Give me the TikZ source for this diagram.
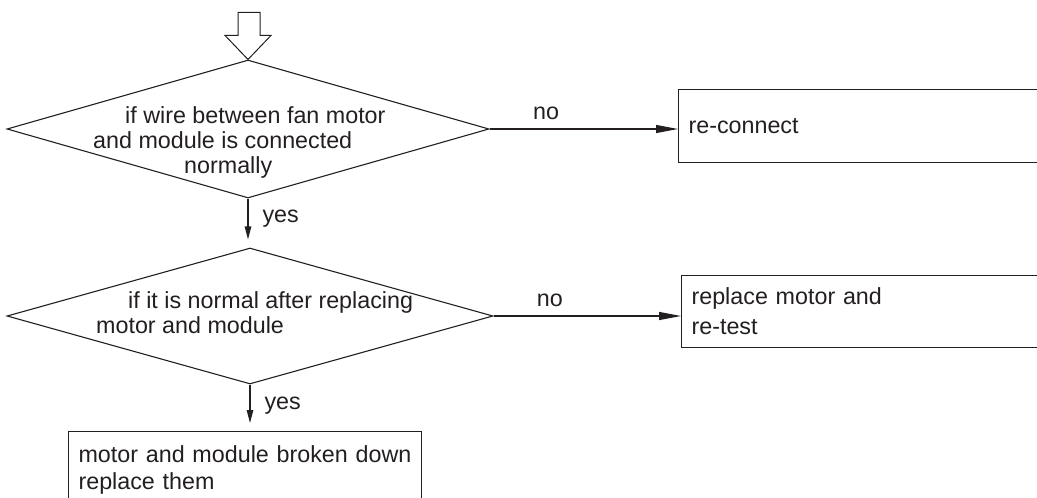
\documentclass[tikz,border=0pt]{standalone}
\usepackage{fontspec}
\setmainfont{Liberation Sans}
\usetikzlibrary{shapes.geometric,arrows.meta,positioning}
\definecolor{ink}{RGB}{35,31,32}
\begin{document}
\begin{tikzpicture}[x=1pt,y=-1pt,font=\fontsize{23.3}{25}\selectfont,text=ink,
	decision/.style={diamond,draw=ink,line width=1.1pt,inner sep=0pt},
	question/.style={anchor=north west,align=left,inner sep=0pt},
	block/.style={draw=ink,line width=1.1pt,anchor=north west,align=left,text width=380pt,inner xsep=10pt},
	flow/.style={draw=ink,line width=1.1pt,-{Triangle[length=22pt,width=8pt]}},
	down/.style={draw=ink,line width=1.1pt,shorten >=8pt,-{Triangle[length=13pt,width=6.5pt]}},
	tag/.style={inner sep=2pt}]
	% page
	\useasboundingbox (0,0) rectangle (1037,498);
	\clip (0,0) rectangle (1037,498);
	% decisions
	\node[decision,minimum width=482pt,minimum height=138pt] (d1) at (248,129) {};
	\node[decision,minimum width=486pt,minimum height=136pt] (d2) at (250,316) {};
	\node[question] (q1) at (93,106) {\hspace*{32pt}if wire between fan motor\\and module is connected\\\hspace*{91pt}normally};
	\node[question] (q2) at (96,291) {\hspace*{32pt}if it is normal after replacing\\motor and module};
	% outcomes
	\node[block,minimum height=73pt] (b1) at (678,89) {re-connect};
	\node[block,minimum height=72pt,font=\fontsize{23.3}{30}\selectfont] (b2) at (681,275) {replace motor and\\re-test};
	\node[block,text width=333pt,inner ysep=14pt,font=\fontsize{23.3}{27}\selectfont] (b3) at (68,431) {motor and module broken down\\replace them};
	% start arrow
	\coordinate (start) at (d1.north);
	\draw[ink,line width=1pt] (start) -- ++(-23,-24) -- ++(13,0) -- ++(0,-23) -- ++(22,0) -- ++(0,23) -- ++(11,0) -- cycle;
	% connectors
	\draw[flow] (d1.east) -- (d1.east -| b1.west) node[tag,pos=0.3,above=7pt] (no1) {no};
	\draw[flow] (d2.east) -- (d2.east -| b2.west) node[tag,pos=0.3,above=7pt] (no2) {no};
	\draw[down] (d1.south) -- (d1.south |- d2.north) node[tag,pos=0.42,right=12pt] (yes1) {yes};
	\draw[down] (d2.south) -- (d2.south |- b3.north) node[tag,pos=0.45,right=12pt] (yes2) {yes};
\end{tikzpicture}
\end{document}
